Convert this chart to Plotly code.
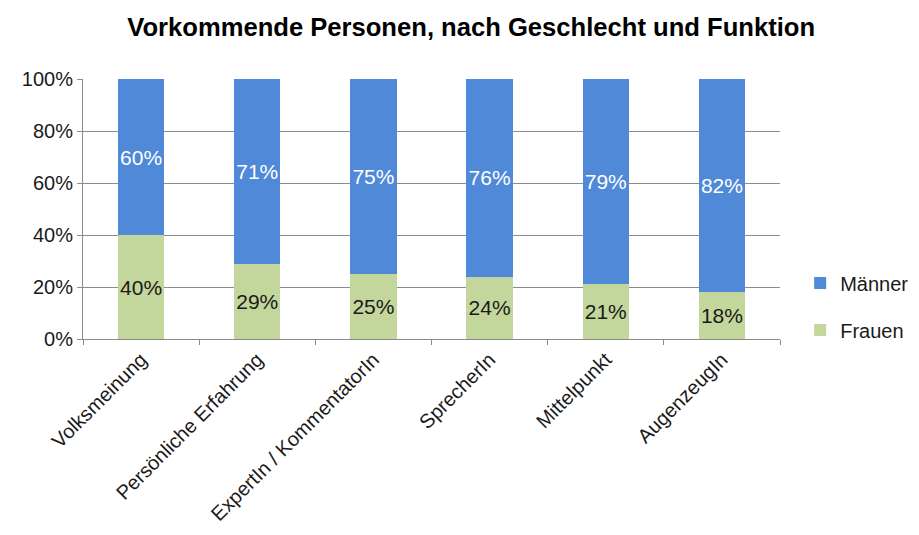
import plotly.graph_objects as go

categories = ["Volksmeinung", "Persönliche Erfahrung", "ExpertIn / KommentatorIn",
              "SprecherIn", "Mittelpunkt", "AugenzeugIn"]
frauen = [40, 29, 25, 24, 21, 18]
maenner = [60, 71, 75, 76, 79, 82]
tick_vals = [0, 20, 40, 60, 80, 100]
tick_text = ["0%", "20%", "40%", "60%", "80%", "100%"]

font_family = "Liberation Sans, Arial, sans-serif"

fig = go.Figure()
fig.add_trace(go.Bar(
    x=categories, y=frauen, name="Frauen", legendgroup="f", legendrank=2,
    marker=dict(color="#c3d69b", line=dict(width=0)),
    text=[f"{v}%" for v in frauen], textposition="inside", insidetextanchor="middle",
    textangle=0, cliponaxis=False,
    textfont=dict(color="#1a1a1a", size=21, family=font_family),
    hoverinfo="skip"))
fig.add_trace(go.Bar(
    x=categories, y=maenner, name="Männer", legendgroup="m", legendrank=1,
    marker=dict(color="#4f89d8", line=dict(width=0)),
    text=[f"{v}%" for v in maenner], textposition="inside", insidetextanchor="middle",
    textangle=0, cliponaxis=False,
    textfont=dict(color="white", size=21, family=font_family),
    hoverinfo="skip"))

fig.update_layout(
    barmode="stack", bargap=0.6,
    width=919, height=535,
    margin=dict(l=75, r=147, t=71, b=204, autoexpand=False),
    paper_bgcolor="white", plot_bgcolor="white",
    font=dict(family=font_family, size=20, color="#1a1a1a"),
    title=dict(text="<b>Vorkommende Personen, nach Geschlecht und Funktion</b>",
               x=0.504, xanchor="center", y=0.964, yanchor="middle",
               font=dict(size=25.6, color="black", family=font_family)),
    uniformtext=dict(minsize=21, mode="show"),
    legend=dict(xref="container", yref="container",
                x=0.862, xanchor="left", y=0.442, yanchor="middle",
                traceorder="grouped", tracegroupgap=18,
                font=dict(size=20, color="#1a1a1a"),
                bgcolor="rgba(0,0,0,0)"),
    showlegend=True,
)
fig.update_yaxes(range=[0, 100], tickvals=tick_vals, ticktext=tick_text,
                 showgrid=True, gridcolor="#8a8a8a", gridwidth=1,
                 showline=True, linecolor="#8a8a8a", linewidth=1,
                 ticks="outside", ticklen=5, tickcolor="#8a8a8a",
                 zeroline=False, fixedrange=True, automargin=False)
fig.update_xaxes(tickangle=-45, showline=True, linecolor="#8a8a8a", linewidth=1,
                 ticks="outside", ticklen=5, tickcolor="#8a8a8a",
                 tickson="boundaries", showgrid=False, fixedrange=True, automargin=False)

fig.write_html("out.html")
